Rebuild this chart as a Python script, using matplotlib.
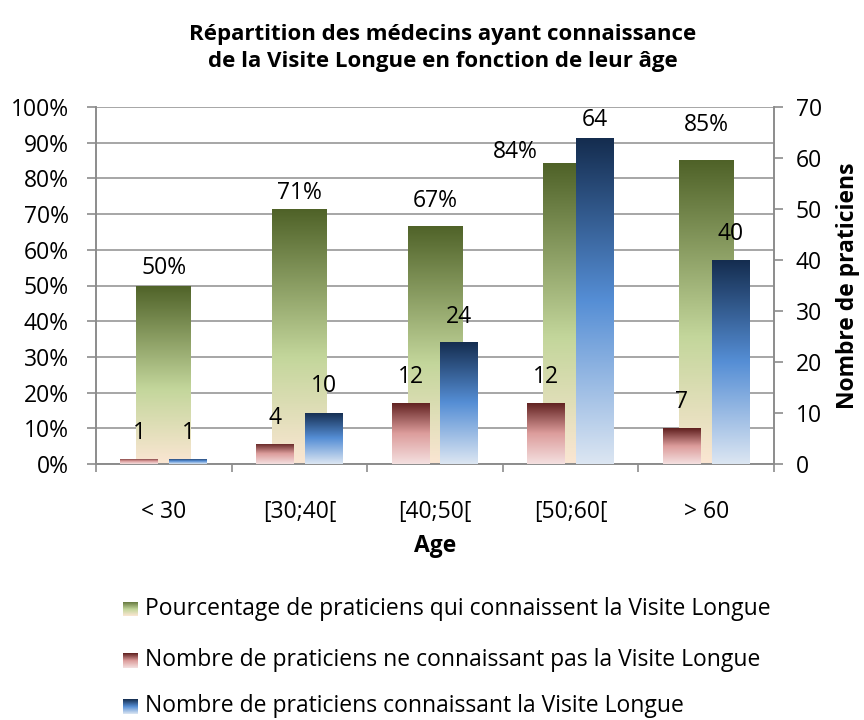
import numpy as np
import matplotlib.pyplot as plt
from matplotlib.colors import LinearSegmentedColormap
from matplotlib.ticker import FuncFormatter, FixedLocator

plt.rcParams['font.family'] = ['Open Sans', 'DejaVu Sans']

# data
categories = ['< 30', '[30;40[', '[40;50[', '[50;60[', '> 60']
pct_connait = [0.50, 0.714, 0.667, 0.842, 0.851]
nb_ne_connait_pas = [1, 4, 12, 12, 7]
nb_connait = [1, 10, 24, 64, 40]

labels_series = ['Pourcentage de praticiens qui connaissent la Visite Longue',
                 'Nombre de praticiens ne connaissant pas la Visite Longue',
                 'Nombre de praticiens connaissant la Visite Longue']

# gradients (bottom -> top)
cm_green = LinearSegmentedColormap.from_list('g', [(0, '#FBE6D3'), (0.42, '#C3D69B'), (1, '#4F6228')])
cm_red = LinearSegmentedColormap.from_list('r', [(0, '#F4E0E0'), (0.5, '#DC9C9B'), (1, '#5E1F1E')])
cm_blue = LinearSegmentedColormap.from_list('b', [(0, '#DCE6F2'), (0.5, '#558ED5'), (1, '#142C4E')])

grey = '#8C8C8C'
fs = 16.5


def grad_fill(ax, bars, cmap):
    for b in bars:
        x0, y0 = b.get_x(), b.get_y()
        w, h = b.get_width(), b.get_height()
        im = ax.imshow(np.linspace(0, 1, 256).reshape(-1, 1), cmap=cmap,
                       extent=[x0, x0 + w, y0, y0 + h], origin='lower',
                       aspect='auto', zorder=b.get_zorder(), interpolation='bilinear')
        im.set_clip_path(b)
        b.set_facecolor('none')


fig = plt.figure(figsize=(8.64, 7.2), dpi=100)
ax = fig.add_axes([96 / 864, 1 - 464 / 720, 678 / 864, 357 / 720])
ax2 = ax.twinx()

x = np.arange(len(categories))

g = ax.bar(x, pct_connait, width=0.405, zorder=2, linewidth=0)
grad_fill(ax, g, cm_green)
r = ax2.bar(x - 0.18, nb_ne_connait_pas, width=0.28, zorder=3, linewidth=0)
grad_fill(ax2, r, cm_red)
b = ax2.bar(x + 0.18, nb_connait, width=0.28, zorder=3, linewidth=0)
grad_fill(ax2, b, cm_blue)

ax.set_xlim(-0.5, len(categories) - 0.5)
ax.set_ylim(0, 1)
ax2.set_ylim(0, 70)
ax.set_yticks(np.arange(0, 1.01, 0.1))
ax2.set_yticks(np.arange(0, 71, 10))
ax.yaxis.set_major_formatter(FuncFormatter(lambda v, p: '%d%%' % round(v * 100)))

ax.grid(axis='y', color='#A6A6A6', linewidth=1.4)
ax.set_axisbelow(True)

ax.set_xticks(x)
ax.set_xticklabels(categories, fontsize=fs)
ax.xaxis.set_minor_locator(FixedLocator(np.arange(-0.5, len(categories), 1)))
ax.tick_params(axis='x', which='major', length=0, pad=26)
ax.tick_params(axis='x', which='minor', length=6, color=grey, width=1.2)
ax.tick_params(axis='y', length=6.5, pad=13, labelsize=fs, color=grey, width=1.2)
ax2.tick_params(axis='y', length=6.5, pad=9, labelsize=fs, color=grey, width=1.2)

for a in (ax, ax2):
    a.spines['top'].set_visible(False)
    for s in ('left', 'right', 'bottom'):
        a.spines[s].set_color(grey)
        a.spines[s].set_linewidth(1.2)

ax.set_xlabel('Age', fontsize=fs, fontweight='bold', labelpad=7)
ax2.set_ylabel('Nombre de praticiens', fontsize=fs, fontweight='bold', labelpad=10)

fig.text(443 / 864, 1 - 48 / 720,
         'Répartition des médecins ayant connaissance\nde la Visite Longue en fonction de leur âge',
         ha='center', va='center', fontsize=16, fontweight='bold', linespacing=1.4)

# data labels (offsets in pixels, a few moved by hand in the original)
pt = 72 / 100
pct_off = [(0, 18), (0, 16), (0, 25), (-55, 11), (0, 35)]
for i, v in enumerate(pct_connait):
    dx, dy = pct_off[i]
    ax.annotate('%d%%' % round(v * 100), (x[i], v), xytext=(dx * pt, dy * pt),
                textcoords='offset points', ha='center', va='center', fontsize=fs)
for i, v in enumerate(nb_ne_connait_pas):
    ax2.annotate(str(v), (x[i] - 0.18, v), xytext=(0, 26 * pt),
                 textcoords='offset points', ha='center', va='center', fontsize=fs, zorder=5)
blue_dy = [26, 27, 25, 18, 26]
for i, v in enumerate(nb_connait):
    ax2.annotate(str(v), (x[i] + 0.18, v), xytext=(0, blue_dy[i] * pt),
                 textcoords='offset points', ha='center', va='center', fontsize=fs, zorder=5)

# legend, drawn by hand with gradient swatches
cmaps = [cm_green, cm_red, cm_blue]
rows_y = [609, 660, 706]
for lab, cm, yy in zip(labels_series, cmaps, rows_y):
    sw = fig.add_axes([123 / 864, 1 - (yy + 7.5) / 720, 15 / 864, 15 / 720])
    sw.imshow(np.linspace(0, 1, 64).reshape(-1, 1), cmap=cm, origin='lower', aspect='auto')
    sw.axis('off')
    fig.text(145 / 864, 1 - yy / 720, lab, ha='left', va='center', fontsize=fs)

fig.savefig('out.png', dpi=100)
